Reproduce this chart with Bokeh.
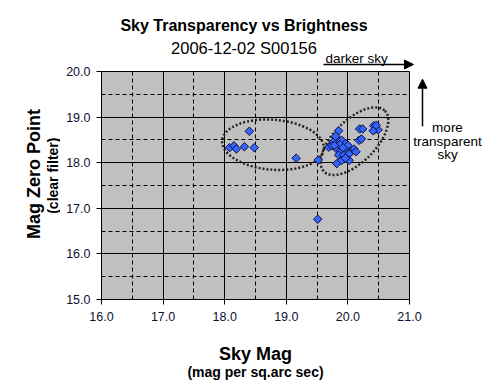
import math
from bokeh.plotting import figure
from bokeh.layouts import column, row
from bokeh.models import Label, Arrow, NormalHead, FixedTicker, Range1d
from bokeh.embed import file_html
from bokeh.resources import INLINE

# ---- data ----
sky_mag = [18.08, 18.15, 18.19, 18.32, 18.40, 18.48,
           19.16, 19.52, 19.51,
           19.85, 19.82, 19.76, 19.90, 19.96, 19.69, 19.74, 19.82, 19.88, 19.99,
           20.05, 20.10, 20.13, 19.85, 19.93, 20.02, 19.82, 19.90, 20.02, 19.96,
           20.18, 20.22, 20.19, 20.24, 20.42, 20.45, 20.49, 20.41, 20.46,
           19.80, 19.87, 19.78, 20.00, 19.92]
zero_point = [18.33, 18.37, 18.30, 18.35, 18.69, 18.33,
              18.10, 18.06, 16.76,
              18.70, 18.52, 18.45, 18.49, 18.42, 18.34, 18.37, 18.30, 18.26, 18.30,
              18.26, 18.30, 18.24, 18.17, 18.16, 18.19, 17.98, 18.05, 18.05, 18.10,
              18.49, 18.52, 18.74, 18.74, 18.81, 18.74, 18.72, 18.70, 18.82,
              18.58, 18.40, 18.38, 18.38, 18.33]
x_ticks = [16, 17, 18, 19, 20, 21]
y_ticks = [15, 16, 17, 18, 19, 20]
x_minor = [16.5, 17.5, 18.5, 19.5, 20.5]
y_minor = [15.5, 16.5, 17.5, 18.5, 19.5]

FONT = "Liberation Sans"
W, H = 487, 392

# ---------- main chart ----------
p = figure(width=362, height=267, output_backend="svg", toolbar_location=None,
           x_range=(16, 21), y_range=(15, 20),
           min_border_left=41, min_border_right=13, min_border_top=8, min_border_bottom=31)
p.border_fill_color = None
p.background_fill_color = "#c0c0c0"
p.outline_line_color = "black"
p.outline_line_width = 1

p.xaxis.ticker = FixedTicker(ticks=x_ticks, minor_ticks=x_minor)
p.yaxis.ticker = FixedTicker(ticks=y_ticks, minor_ticks=y_minor)
p.xaxis.major_label_overrides = {t: f"{t:.1f}" for t in x_ticks}
p.yaxis.major_label_overrides = {t: f"{t:.1f}" for t in y_ticks}
for ax in (p.xaxis, p.yaxis):
    ax.axis_line_color = "black"
    ax.major_tick_line_color = "black"
    ax.major_tick_out = 5
    ax.major_tick_in = 0
    ax.minor_tick_out = 0
    ax.minor_tick_in = 0
    ax.major_label_text_font = FONT
    ax.major_label_text_font_size = "12.5px"
    ax.major_label_text_color = "#111133"
p.xaxis.major_label_standoff = 7
p.yaxis.major_label_standoff = 6

for g in (p.xgrid, p.ygrid):
    g.grid_line_color = "black"
    g.grid_line_width = 1
    g.grid_line_alpha = 1
    g.minor_grid_line_color = "black"
    g.minor_grid_line_dash = "4 3"
    g.minor_grid_line_width = 1

# reference-pixel position -> data coordinates (inside the frame)
def dx(px):
    return 16 + (px - 101) * 5 / 308.0

def dy(py):
    return 20 - (py - 70.7) * 5 / 228.3

# dotted ellipses
p.ellipse(x=[dx(272.5)], y=[dy(144)], width=[102], height=[50], angle=[-0.08],
          width_units="screen", height_units="screen",
          fill_color=None, line_color="#222222", line_width=2.5, line_dash="2 2")
p.ellipse(x=[dx(354)], y=[dy(140.5)], width=[86], height=[42], angle=[math.pi / 4],
          width_units="screen", height_units="screen",
          fill_color=None, line_color="#222222", line_width=2.5, line_dash="2 2")

p.scatter(sky_mag, zero_point, marker="square", angle=math.pi / 4, size=6,
          fill_color="#3366ff", line_color="#101040", line_width=1)


# ---------- surrounding transparent strips for titles / notes (page-pixel coords) ----------
def strip(w, h, x0, y0, **kw):
    f = figure(width=w, height=h, output_backend="svg", toolbar_location=None,
               x_range=Range1d(x0, x0 + w), y_range=Range1d(y0 + h, y0),
               x_axis_location=None, y_axis_location=None, min_border=0, **kw)
    f.grid.visible = False
    f.outline_line_color = None
    f.background_fill_color = None
    f.border_fill_color = None
    return f

top = strip(W, 70, 0, 0)
left = strip(60, 267, 0, 63)
right = strip(77, 267, 410, 63, margin=(0, 0, 0, -12))
bottom = strip(W, 62, 0, 330)


def lab(f, text, x, y, size, bold=False, align="center", angle=0):
    f.add_layout(Label(x=x, y=y, text=text, text_font=FONT, text_font_size=size,
                       text_font_style="bold" if bold else "normal",
                       text_align=align, text_baseline="alphabetic", angle=angle,
                       text_color="black"))

lab(top, "Sky Transparency vs Brightness", 243.5, 25, "16px", bold=True)
lab(top, "2006-12-02 S00156", 243.5, 47.5, "16.5px")
lab(top, "darker sky", 325, 58, "13.5px", align="left")
top.add_layout(Arrow(end=NormalHead(size=9, fill_color="black", line_color="black"),
                     x_start=323, y_start=64, x_end=413, y_end=64,
                     line_color="black", line_width=1.5))

lab(left, "Mag Zero Point", 33.5, 183, "18px", bold=True, angle=math.pi / 2)
lab(left, "(clear filter)", 52, 185, "14px", bold=True, angle=math.pi / 2)

lab(right, "more", 447, 128, "13.5px")
lab(right, "transparent", 447, 145, "13.5px")
lab(right, "sky", 447, 160, "13.5px")
right.add_layout(Arrow(end=NormalHead(size=9, fill_color="black", line_color="black"),
                       x_start=422, y_start=127, x_end=422, y_end=72,
                       line_color="black", line_width=1.5))

lab(bottom, "Sky Mag", 255, 353, "18px", bold=True)
lab(bottom, "(mag per sq.arc sec)", 255, 371, "14px", bold=True)

middle = row(left, p, right, spacing=0, margin=(-7, 0, 0, 0))
layout = column(top, middle, bottom, spacing=0)
open("out.html", "w").write(file_html(layout, INLINE))
